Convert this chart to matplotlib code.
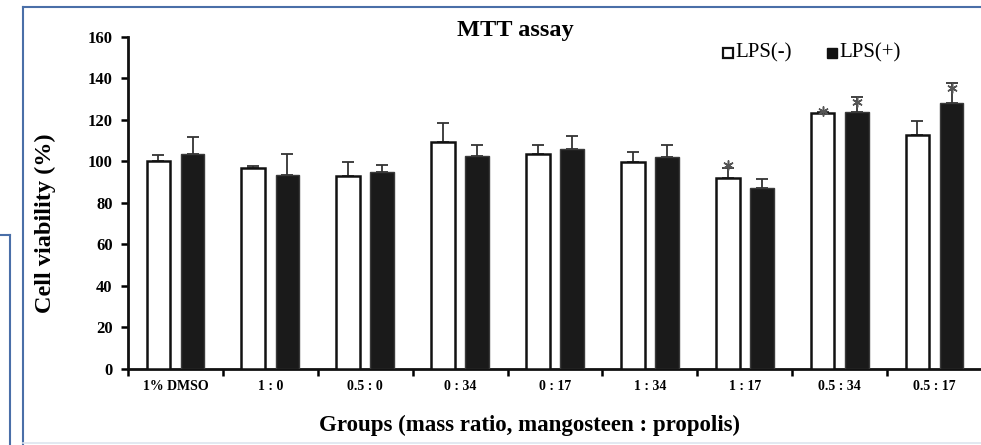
import numpy as np
import matplotlib.pyplot as plt
from matplotlib.lines import Line2D

plt.rcParams['font.family'] = ['Liberation Serif', 'DejaVu Serif']

# Data
groups = ['1% DMSO', '1 : 0', '0.5 : 0', '0 : 34', '0 : 17', '1 : 34', '1 : 17', '0.5 : 34', '0.5 : 17']
lps_neg = [100.1, 96.7, 93.0, 109.2, 103.4, 99.6, 91.9, 123.2, 112.8]
lps_neg_err = [3.0, 1.0, 6.8, 9.2, 4.5, 5.0, 5.0, 0.8, 6.8]
lps_pos = [103.6, 93.6, 94.8, 102.5, 106.0, 102.3, 87.4, 123.9, 128.3]
lps_pos_err = [8.2, 10.0, 3.5, 5.5, 6.3, 5.6, 4.2, 7.0, 9.5]
# significance stars: group index, series (0 = LPS(-), 1 = LPS(+)), height
star_group = [6, 7, 7, 8]
star_series = [0, 0, 1, 1]
star_y = [98.5, 124.3, 128.7, 135.4]

fig = plt.figure(figsize=(9.81, 4.45), dpi=100)
ax = fig.add_axes([0.1305, 0.1708, 0.8705, 0.7461])

x = np.arange(len(groups))
w = 0.25
off = 0.18
neg = np.array(lps_neg)
pos = np.array(lps_pos)
ax.bar(x - off, neg, w, color='white', edgecolor='#111111', linewidth=1.8, zorder=3)
ax.bar(x + off, pos, w, color='#1a1a1a', edgecolor='#3a3a3a', linewidth=1.0, zorder=3)
ax.errorbar(x - off, neg, yerr=[np.zeros(len(x)), lps_neg_err], fmt='none',
            ecolor='#333333', elinewidth=1.3, capsize=4, capthick=1.3, zorder=2)
ax.errorbar(x + off, pos, yerr=[np.zeros(len(x)), lps_pos_err], fmt='none',
            ecolor='#333333', elinewidth=1.3, capsize=4, capthick=1.3, zorder=2)

sx = np.array(star_group) + np.where(np.array(star_series) == 0, -off, off)
ax.scatter(sx, star_y, marker=(6, 2, 0), s=45, color='#555555', linewidths=1.1,
           zorder=5, clip_on=False)

ax.set_xlim(-0.5, 8.5)
ax.set_ylim(0, 160)
ax.set_yticks(range(0, 161, 20))
ax.set_xticks(x)
ax.set_xticklabels(groups, fontsize=10, fontweight='bold')
ax.set_xticks(np.arange(-0.5, 8.6, 1), minor=True)
ax.tick_params(axis='x', which='major', length=0, pad=8)
ax.tick_params(axis='x', which='minor', length=5, width=1.8, direction='out')
ax.tick_params(axis='y', length=5, width=1.8, direction='out', labelsize=12, pad=6)
for lab in ax.get_yticklabels():
    lab.set_fontweight('bold')

for side in ['top', 'right']:
    ax.spines[side].set_visible(False)
for side in ['left', 'bottom']:
    ax.spines[side].set_linewidth(2)
    ax.spines[side].set_color('#111111')

fig.text(0.525, 0.932, 'MTT assay', ha='center', va='center', fontsize=17.5, fontweight='bold')
fig.text(0.046, 0.498, 'Cell viability (%)', ha='center', va='center', rotation=90,
         fontsize=17.5, fontweight='bold')
fig.text(0.54, 0.045, 'Groups (mass ratio, mangosteen : propolis)', ha='center', va='center',
         fontsize=16.5, fontweight='bold')

# legend
ly = 1 - 53 / 445
fig.add_artist(Line2D([728 / 981], [ly], marker='s', markersize=7, markerfacecolor='white',
                      markeredgecolor='#111111', markeredgewidth=1.6, linestyle='none'))
fig.text(735 / 981, ly, 'LPS(-)', ha='left', va='center', fontsize=15)
fig.add_artist(Line2D([832 / 981], [ly], marker='s', markersize=7, markerfacecolor='#111111',
                      markeredgecolor='#111111', markeredgewidth=1.0, linestyle='none'))
fig.text(839 / 981, ly, 'LPS(+)', ha='left', va='center', fontsize=15)

# blue frame lines
frame = '#4a6fa8'
fig.add_artist(Line2D([23 / 981, 1], [1 - 7 / 445] * 2, color=frame, lw=1.5))
fig.add_artist(Line2D([23 / 981] * 2, [0, 1 - 7 / 445], color=frame, lw=1.5))
fig.add_artist(Line2D([10 / 981] * 2, [0, 1 - 235 / 445], color=frame, lw=1.5))
fig.add_artist(Line2D([0, 10 / 981], [1 - 235 / 445] * 2, color=frame, lw=1.5))
fig.add_artist(Line2D([23 / 981, 1], [2.5 / 445] * 2, color='#dde5ef', lw=1.2))

fig.savefig('out.png', dpi=100)
